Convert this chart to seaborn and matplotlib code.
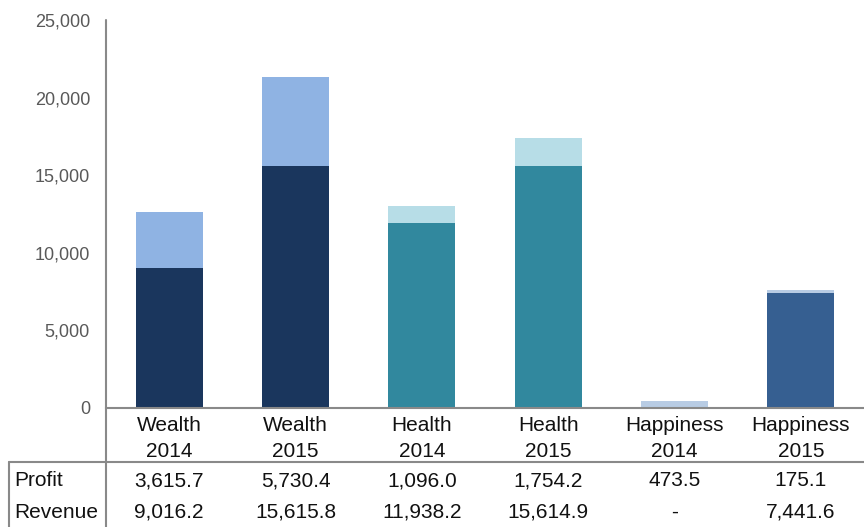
import matplotlib
matplotlib.use("Agg")
import matplotlib.pyplot as plt
import seaborn as sns
import pandas as pd
from matplotlib.lines import Line2D
from matplotlib.ticker import FuncFormatter, MultipleLocator
from matplotlib.transforms import blended_transform_factory

categories = ["Wealth\n2014", "Wealth\n2015", "Health\n2014", "Health\n2015",
              "Happiness\n2014", "Happiness\n2015"]
profit = [3615.7, 5730.4, 1096.0, 1754.2, 473.5, 175.1]
revenue = [9016.2, 15615.8, 11938.2, 15614.9, 0.0, 7441.6]
profit_labels = ["3,615.7", "5,730.4", "1,096.0", "1,754.2", "473.5", "175.1"]
revenue_labels = ["9,016.2", "15,615.8", "11,938.2", "15,614.9", "-", "7,441.6"]
row_names = ["Profit", "Revenue"]

revenue_colors = ["#1a365d", "#1a365d", "#31889e", "#31889e", "#b8cce4", "#365f91"]
profit_colors = ["#8fb3e3", "#8fb3e3", "#b7dde7", "#b7dde7", "#b8cce4", "#b8cce4"]

sns.set_theme(style="white")
plt.rcParams['font.family'] = ['Liberation Sans', 'DejaVu Sans']

W, H = 864, 527
fig = plt.figure(figsize=(W / 100, H / 100), dpi=100)
ax = fig.add_axes([106 / W, 119 / H, 758 / W, 388 / H])

df = pd.DataFrame({
    "cat": categories,
    "total": [p + r for p, r in zip(profit, revenue)],
    "rev": revenue,
})

sns.barplot(data=df, x="cat", y="total", hue="cat", palette=profit_colors,
            width=0.53, saturation=1, legend=False, ax=ax,
            linewidth=0, edgecolor="none")
sns.barplot(data=df, x="cat", y="rev", hue="cat", palette=revenue_colors,
            width=0.53, saturation=1, legend=False, ax=ax,
            linewidth=0, edgecolor="none")

ax.set_ylim(0, 25000)
ax.set_xlim(-0.5, len(categories) - 0.5)
ax.yaxis.set_major_locator(MultipleLocator(5000))
ax.yaxis.set_major_formatter(FuncFormatter(lambda v, p: f"{v:,.0f}"))
ax.set_xlabel("")
ax.set_ylabel("")
for s in ["top", "right", "left"]:
    ax.spines[s].set_visible(False)
ax.spines["bottom"].set_color("#898989")
ax.spines["bottom"].set_linewidth(1.5)
ax.tick_params(axis="y", length=0, pad=11.5, labelsize=13, labelcolor="#595959")
ax.tick_params(axis="x", length=0, pad=5.5, labelsize=15, labelcolor="#111111")
for lbl in ax.get_xticklabels():
    lbl.set_linespacing(1.5)

# vertical axis line extending through table
fig.add_artist(Line2D([106 / W, 106 / W], [0, (H - 20) / H],
                      transform=fig.transFigure, color="#898989", lw=1.5))
# table lines
fig.add_artist(Line2D([9 / W, 1], [65 / H, 65 / H],
                      transform=fig.transFigure, color="#898989", lw=1.5))
fig.add_artist(Line2D([9 / W, 9 / W], [0, 65 / H],
                      transform=fig.transFigure, color="#898989", lw=1.5))

trans = blended_transform_factory(ax.transData, fig.transFigure)
rows_y = [(H - 481) / H, (H - 512) / H]
for name, yy in zip(row_names, rows_y):
    fig.text(14 / W, yy, name, ha="left", va="center", fontsize=15, color="#111111")
for i in range(len(categories)):
    ax.text(i, rows_y[0], profit_labels[i], transform=trans, ha="center",
            va="center", fontsize=15, color="#111111")
    ax.text(i, rows_y[1], revenue_labels[i], transform=trans, ha="center",
            va="center", fontsize=15, color="#111111")

fig.savefig("out.png", dpi=100)
